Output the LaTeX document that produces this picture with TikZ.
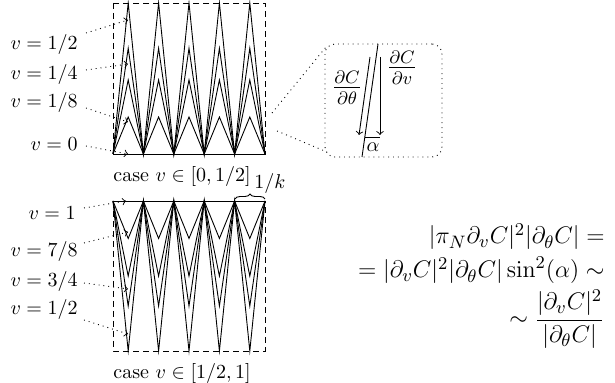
\documentclass[tikz,border=0pt]{standalone}
\usetikzlibrary{decorations.pathreplacing}
\begin{document}
\begin{tikzpicture}[x=0.5pt,y=-0.5pt,
  lab/.style={font=\fontsize{10}{12}\selectfont, inner sep=0pt, anchor=east},
  captext/.style={font=\fontsize{10}{12}\selectfont, inner sep=0pt, anchor=west},
  big/.style={font=\fontsize{12.6}{15}\selectfont, inner sep=0pt, anchor=base east},
  frame/.style={densely dashed, line width=0.45pt},
  zig/.style={line width=0.45pt, line join=miter},
  pointer/.style={dotted, line width=0.45pt, ->},
  conn/.style={dotted, line width=0.45pt},
  vec/.style={line width=0.45pt, ->}]
\useasboundingbox (0,0) rectangle (615,383);
% ---------- top box ----------
\draw[frame] (113,3) rectangle (265,154);
\foreach \f in {1,0.7,0.49,0.245}{
  \draw[zig] (113,154) \foreach \i in {0,...,4}{ -- ({128.2+30.4*\i},{154-151*\f}) -- ({143.4+30.4*\i},154)};
}
\draw[zig] (113,154) -- (265,154);
\node[lab] (t1) at (78,45) {$v=1/2$};
\node[lab] (t2) at (78,75) {$v=1/4$};
\node[lab] (t3) at (78,103) {$v=1/8$};
\node[lab] (t4) at (78,144) {$v=0$};
\coordinate (ts1) at (86,33);
\coordinate (ts2) at (86,70);
\coordinate (ts3) at (86,108);
\coordinate (ts4) at (86,146);
\coordinate (ta1) at (128,20);
\coordinate (ta2) at (128,64);
\coordinate (ta3) at (128,122);
\coordinate (ta4) at (128,154);
\draw[pointer] (ts1) -- (ta1);
\draw[pointer] (ts2) -- (ta2);
\draw[pointer] (ts3) -- (ta3);
\draw[pointer] (ts4) -- (ta4);
\node[captext] (c1) at (113,177) {case $v\in[0,1/2]$};
% ---------- bottom box ----------
\draw[frame] (113,201) rectangle (265,351);
\foreach \f in {1,0.7,0.5,0.25}{
  \draw[zig] (113,201) \foreach \i in {0,...,4}{ -- ({128.2+30.4*\i},{201+150*\f}) -- ({143.4+30.4*\i},201)};
}
\draw[zig] (113,201) -- (265,201);
\node[lab] (b1) at (76,213) {$v=1$};
\node[lab] (b2) at (78,252) {$v=7/8$};
\node[lab] (b3) at (78,282) {$v=3/4$};
\node[lab] (b4) at (78,310) {$v=1/2$};
\coordinate (bs1) at (84,208);
\coordinate (bs2) at (84,243);
\coordinate (bs3) at (84,283);
\coordinate (bs4) at (84,320);
\coordinate (ba1) at (126,201);
\coordinate (ba2) at (128,232);
\coordinate (ba3) at (128,289);
\coordinate (ba4) at (128,334);
\draw[pointer] (bs1) -- (ba1);
\draw[pointer] (bs2) -- (ba2);
\draw[pointer] (bs3) -- (ba3);
\draw[pointer] (bs4) -- (ba4);
\node[captext] (c2) at (113,374) {case $v\in[1/2,1]$};
% brace 1/k
\draw[zig, decorate, decoration={brace, amplitude=2.5pt}] (235,199) -- (265,199);
\node[captext] (k) at (254,184) {$1/k$};
% ---------- inset ----------
\node[draw, dotted, line width=0.45pt, rounded corners=5pt, minimum width=58.5pt, minimum height=56.5pt, inner sep=0pt] (inset) at (383.5,100.5) {};
\coordinate (z1) at (272,113);
\coordinate (z2) at (277,131);
\coordinate (i1) at (326,47);
\coordinate (i2) at (327,152);
\draw[conn] (z1) -- (i1);
\draw[conn] (z2) -- (i2);
\coordinate (la) at (378,44);
\coordinate (lb) at (362,157);
\draw[zig] (la) -- (lb);
\coordinate (ath0) at (370,57);
\coordinate (ath1) at (359,135);
\draw[vec] (ath0) -- (ath1);
\coordinate (av0) at (380,57);
\coordinate (av1) at (380,135);
\draw[vec] (av0) -- (av1);
\coordinate (ang0) at (365,137);
\coordinate (ang1) at (380,137);
\draw[zig] (ang0) -- (ang1);
\node[font=\fontsize{10}{12}\selectfont, inner sep=0pt] (al) at (373,147) {$\alpha$};
\node[font=\fontsize{13.5}{15}\selectfont, inner sep=0pt] (dth) at (347,88) {$\frac{\partial C}{\partial\theta}$};
\node[font=\fontsize{13.5}{15}\selectfont, inner sep=0pt] (dv) at (402,68) {$\frac{\partial C}{\partial v}$};
% ---------- formula ----------
\node[big] (f1) at (605,244) {$|\pi_N\partial_v C|^2|\partial_\theta C| =$};
\node[big] (f2) at (605,278) {$= |\partial_v C|^2|\partial_\theta C|\sin^2(\alpha) \sim$};
\node[big] (f3) at (605,326) {$\displaystyle\sim \frac{|\partial_v C|^2}{|\partial_\theta C|}$};
\end{tikzpicture}
\end{document}
